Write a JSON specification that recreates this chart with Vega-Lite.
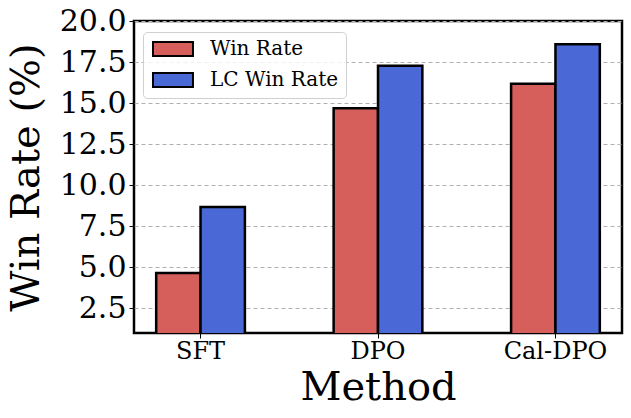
{
  "$schema": "https://vega.github.io/schema/vega-lite/v6.json",
  "width": 488,
  "height": 312,
  "autosize": {"type": "none"},
  "padding": {"left": 134, "top": 21, "right": 9, "bottom": 85},
  "background": "white",
  "data": {
    "values": [
      {"Method": "SFT", "Metric": "Win Rate", "value": 4.65},
      {"Method": "SFT", "Metric": "LC Win Rate", "value": 8.68},
      {"Method": "DPO", "Metric": "Win Rate", "value": 14.68},
      {"Method": "DPO", "Metric": "LC Win Rate", "value": 17.27},
      {"Method": "Cal-DPO", "Metric": "Win Rate", "value": 16.18},
      {"Method": "Cal-DPO", "Metric": "LC Win Rate", "value": 18.58}
    ]
  },
  "mark": {"type": "bar", "stroke": "black", "strokeWidth": 2.5, "clip": true},
  "encoding": {
    "x": {
      "field": "Method",
      "type": "nominal",
      "sort": ["SFT", "DPO", "Cal-DPO"],
      "scale": {"paddingInner": 0.5, "paddingOuter": 0.125},
      "axis": {
        "title": "Method",
        "labelAngle": 0,
        "labelFont": "DejaVu Serif",
        "labelFontSize": 24,
        "labelColor": "black",
        "titleFont": "DejaVu Serif",
        "titleFontSize": 40,
        "titleFontWeight": "normal",
        "titleColor": "black",
        "tickSize": 5,
        "tickColor": "black",
        "tickWidth": 1,
        "labelPadding": 1,
        "titlePadding": 4,
        "domain": false,
        "grid": false
      }
    },
    "xOffset": {
      "field": "Metric",
      "type": "nominal",
      "sort": ["Win Rate", "LC Win Rate"],
      "scale": {"paddingInner": 0, "paddingOuter": 0}
    },
    "y": {
      "field": "value",
      "type": "quantitative",
      "scale": {"domain": [1, 20], "nice": false, "zero": false},
      "axis": {
        "title": "Win Rate (%)",
        "values": [2.5, 5, 7.5, 10, 12.5, 15, 17.5, 20],
        "format": ".1f",
        "labelFont": "DejaVu Serif",
        "labelFontSize": 30,
        "labelColor": "black",
        "titleFont": "DejaVu Serif",
        "titleFontSize": 40,
        "titleFontWeight": "normal",
        "titleColor": "black",
        "tickSize": 5,
        "tickColor": "black",
        "labelPadding": 3,
        "titlePadding": 13,
        "domain": false,
        "grid": true,
        "gridDash": [4, 3],
        "gridColor": "#b0b0b0",
        "gridWidth": 1
      }
    },
    "color": {
      "field": "Metric",
      "type": "nominal",
      "scale": {"domain": ["Win Rate", "LC Win Rate"], "range": ["#d65f5c", "#4a68d6"]},
      "legend": {
        "title": null,
        "orient": "none",
        "legendX": 9,
        "legendY": 11,
        "symbolType": "M-1,-1H4.71V1H-1Z",
        "symbolSize": 196,
        "symbolStrokeColor": "black",
        "symbolStrokeWidth": 2,
        "symbolOpacity": 1,
        "labelFont": "DejaVu Serif",
        "labelFontSize": 20,
        "labelColor": "black",
        "labelOffset": 40,
        "rowPadding": 9,
        "padding": 7,
        "strokeColor": "#d0d0d0",
        "fillColor": "rgba(255,255,255,0.8)",
        "cornerRadius": 4
      }
    }
  },
  "config": {
    "view": {"stroke": "black", "strokeWidth": 2.5}
  }
}
